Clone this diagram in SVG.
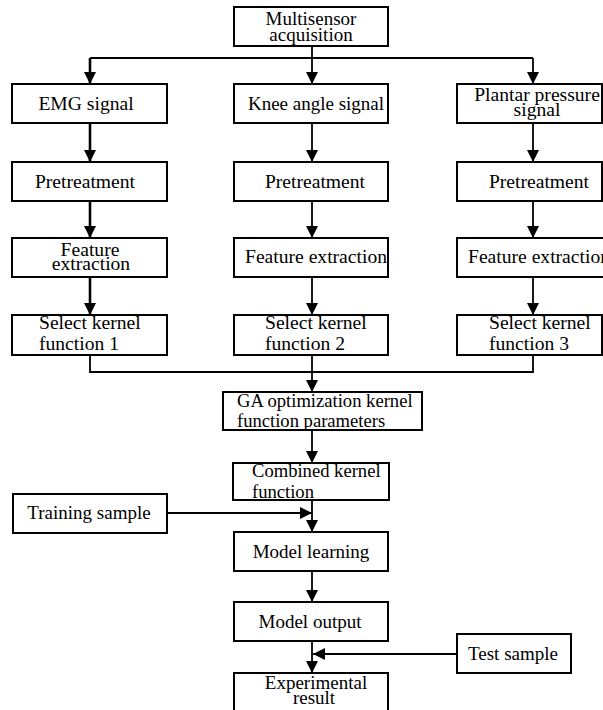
<svg xmlns="http://www.w3.org/2000/svg" width="603" height="710" viewBox="0 0 603 710">
<style>
.box{fill:#fff;stroke:#000;stroke-width:2}
.t{font-family:"Liberation Serif","Times New Roman",serif;font-size:19px;fill:#000}
.b{font-size:19.6px}
.s{font-size:18.6px}
.c{text-anchor:middle}
.ln{fill:none;stroke:#000;stroke-width:1.8}
.thick{stroke-width:2.6}
</style>
<defs>
<marker id="ah" viewBox="0 0 12 12" refX="12" refY="6" markerWidth="12" markerHeight="12" orient="auto" markerUnits="userSpaceOnUse"><path d="M0,0 L12,6 L0,12 Z" fill="#000"/></marker>
</defs>
<rect width="603" height="710" fill="#fff"/>
<g id="connectors">
<path class="ln" d="M312,46 V58"/>
<path class="ln" d="M90,58 H533"/>
<path class="ln thick" d="M90,58 V84" marker-end="url(#ah)"/>
<path class="ln" d="M312,58 V84" marker-end="url(#ah)"/>
<path class="ln" d="M533,58 V84" marker-end="url(#ah)"/>
<path class="ln thick" d="M90,123 V162" marker-end="url(#ah)"/>
<path class="ln" d="M312,123 V162" marker-end="url(#ah)"/>
<path class="ln" d="M533,123 V162" marker-end="url(#ah)"/>
<path class="ln thick" d="M90,201 V238" marker-end="url(#ah)"/>
<path class="ln" d="M312,201 V238" marker-end="url(#ah)"/>
<path class="ln" d="M533,201 V238" marker-end="url(#ah)"/>
<path class="ln thick" d="M90,277 V315" marker-end="url(#ah)"/>
<path class="ln" d="M312,277 V315" marker-end="url(#ah)"/>
<path class="ln" d="M533,277 V315" marker-end="url(#ah)"/>
<path class="ln" d="M90,355 V372 H533 V355"/>
<path class="ln" d="M312,355 V392" marker-end="url(#ah)"/>
<path class="ln" d="M312,430 V463" marker-end="url(#ah)"/>
<path class="ln" d="M312,500 V532" marker-end="url(#ah)"/>
<path class="ln" d="M167,513 H312" marker-end="url(#ah)"/>
<path class="ln" d="M312,571 V602" marker-end="url(#ah)"/>
<path class="ln" d="M312,641 V673" marker-end="url(#ah)"/>
<path class="ln" d="M457,654 H313" marker-end="url(#ah)"/>
</g>
<g id="multisensor"><rect class="box" x="234" y="7" width="154" height="39"/>
<text class="t c" x="311" y="25">Multisensor</text><text class="t c" x="311" y="41">acquisition</text></g>
<g id="emg"><rect class="box" x="12" y="84" width="155" height="39"/><text class="t b c" x="86" y="110">EMG signal</text></g>
<g id="knee"><rect class="box" x="234" y="84" width="154" height="39"/><text class="t c" x="316" y="110">Knee angle signal</text></g>
<g id="plantar"><rect class="box" x="457" y="84" width="145" height="39"/><text class="t b c" x="537" y="101">Plantar pressure</text><text class="t b c" x="537" y="116">signal</text></g>
<g id="pre1"><rect class="box" x="12" y="162" width="155" height="39"/><text class="t b c" x="85" y="188">Pretreatment</text></g>
<g id="pre2"><rect class="box" x="234" y="162" width="154" height="39"/><text class="t b c" x="315" y="188">Pretreatment</text></g>
<g id="pre3"><rect class="box" x="457" y="162" width="145" height="39"/><text class="t b c" x="539" y="188">Pretreatment</text></g>
<g id="feat1"><rect class="box" x="12" y="238" width="155" height="39"/><text class="t b c" x="90" y="256">Feature</text><text class="t b c" x="91" y="270">extraction</text></g>
<g id="feat2"><rect class="box" x="234" y="238" width="154" height="39"/><text class="t b" x="245" y="263">Feature extraction</text></g>
<g id="feat3"><rect class="box" x="457" y="238" width="150" height="39"/><text class="t b" x="468" y="263">Feature extraction</text></g>
<g id="sel1"><rect class="box" x="12" y="315" width="155" height="40"/><text class="t b" x="39" y="329">Select kernel</text><text class="t b" x="39" y="350">function 1</text></g>
<g id="sel2"><rect class="box" x="234" y="315" width="154" height="40"/><text class="t b" x="265" y="329">Select kernel</text><text class="t b" x="265" y="350">function 2</text></g>
<g id="sel3"><rect class="box" x="457" y="315" width="145" height="40"/><text class="t b" x="489" y="329">Select kernel</text><text class="t b" x="489" y="350">function 3</text></g>
<g id="ga"><rect class="box" x="223" y="392" width="199" height="38"/><text class="t s" x="237" y="407">GA optimization kernel</text><text class="t s" x="237" y="427">function parameters</text></g>
<g id="combined"><rect class="box" x="233" y="463" width="156" height="37"/><text class="t s" x="252" y="477">Combined kernel</text><text class="t s" x="252" y="498">function</text></g>
<g id="training"><rect class="box" x="13" y="494" width="154" height="39"/><text class="t c" x="89" y="519">Training sample</text></g>
<g id="learning"><rect class="box" x="234" y="532" width="154" height="39"/><text class="t c" x="311" y="558">Model learning</text></g>
<g id="output"><rect class="box" x="234" y="602" width="154" height="39"/><text class="t c" x="310" y="628">Model output</text></g>
<g id="test"><rect class="box" x="457" y="634" width="114" height="39"/><text class="t c" x="513" y="660">Test sample</text></g>
<g id="result"><rect class="box" x="234" y="673" width="154" height="45"/><text class="t c" x="316" y="689">Experimental</text><text class="t c" x="314" y="704">result</text></g>
</svg>
